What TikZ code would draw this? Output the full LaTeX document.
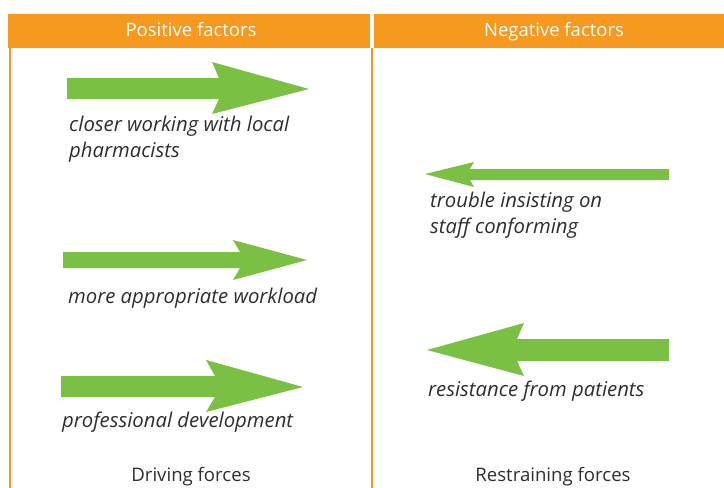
\documentclass[tikz,border=0pt]{standalone}
\usepackage{fontspec}
\setmainfont{Open Sans}
\usetikzlibrary{positioning}

\definecolor{headorange}{HTML}{F7991F}
\definecolor{forcegreen}{HTML}{7AC143}
\definecolor{labelgray}{HTML}{2E2E2E}

\begin{document}
\begin{tikzpicture}[
  x=1pt,
  y=-1pt,
% 1. Orange header bars
  header/.style={
    fill=headorange,
    draw=none
  },
  header_font/.style={
    font=\fontsize{18.5}{20}\selectfont,
    text=white,
    anchor=base,
    inner sep=0pt
  },
% 2. Thin orange column rules
  column_rule/.style={
    draw=headorange,
    line width=2.2pt
  },
% 3. Fat green force arrows
  force/.style={
    fill=forcegreen,
    draw=none
  },
% 4. Italic labels under the arrows (base = last line)
  force_label/.style={
    font=\fontsize{20.3}{26}\selectfont\itshape,
    text=labelgray,
    align=left,
    anchor=base west,
    inner sep=0pt
  },
  foot_label/.style={
    font=\fontsize{18.6}{20}\selectfont,
    text=labelgray,
    anchor=base,
    inner sep=0pt
  }
]
  \useasboundingbox (0,0) rectangle (724,488);

  % Header bars with their titles
  \fill[header] (8,14) rectangle (370,47.5);
  \fill[header] (374,14) rectangle (724,47.5);
  \node[header_font] (pos) at (191,36.5) {Positive factors};
  \node[header_font] (neg) at (554,36.5) {Negative factors};

  % Column rules
  \draw[column_rule] (10,47.5) -- (10,488);
  \draw[column_rule] (372,47.5) -- (372,488);

  % Driving forces (pointing right)
  \fill[force] (67,78) -- (219,78) -- (212,62) -- (309,89) -- (212,114) -- (219,99) -- (67,99) -- cycle;
  \fill[force] (63,252) -- (240,252) -- (233,240) -- (307,260) -- (233,280) -- (240,268) -- (63,268) -- cycle;
  \fill[force] (61,376) -- (215,376) -- (206,360) -- (303,387) -- (206,412) -- (215,397) -- (61,397) -- cycle;

  % Restraining forces (pointing left)
  \fill[force] (669,169) -- (470,169) -- (474,162) -- (425,174) -- (474,187) -- (470,180) -- (669,180) -- cycle;
  \fill[force] (669,339) -- (517,339) -- (524,323) -- (427,350) -- (524,376) -- (517,361) -- (669,361) -- cycle;

  % Labels
  \node[force_label] (local) at (69,157) {closer working with local\\pharmacists};
  \node[force_label] (workload) at (68,303) {more appropriate workload};
  \node[force_label] (develop) at (62,427) {professional development};
  \node[force_label] (staff) at (430,233) {trouble insisting on\\staff conforming};
  \node[force_label] (patients) at (428,396) {resistance from patients};

  % Column footers
  \node[foot_label] (driving) at (191,481) {Driving forces};
  \node[foot_label] (restraining) at (553,481) {Restraining forces};

\end{tikzpicture}
\end{document}
